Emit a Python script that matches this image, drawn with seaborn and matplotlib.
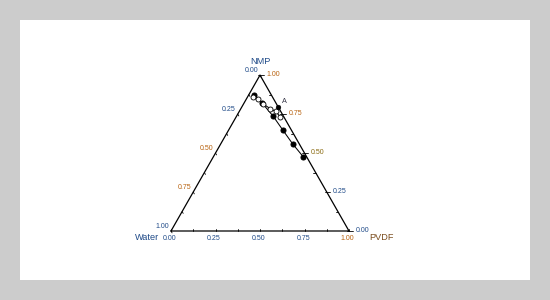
import numpy as np
import pandas as pd
import matplotlib
matplotlib.use("Agg")
import matplotlib.pyplot as plt
from matplotlib.patches import Rectangle
import seaborn as sns

sns.set_style("white")
plt.rcParams['font.family'] = ['Liberation Sans', 'DejaVu Sans']

# ---- data (mass fractions) ----
pvdf_filled = [0.03, 0.10, 0.205, 0.305, 0.405, 0.505]
nmp_filled = [0.875, 0.822, 0.737, 0.647, 0.558, 0.476]

pvdf_open = [0.03, 0.065, 0.11, 0.165, 0.205, 0.25]
nmp_open = [0.86, 0.848, 0.815, 0.785, 0.767, 0.73]

point_A_pvdf = [0.205]
point_A_nmp = [0.797]

tick_values = [0.00, 0.25, 0.50, 0.75, 1.00]
tick_labels = ["0.00", "0.25", "0.50", "0.75", "1.00"]
corner_labels = ["Water", "PVDF", "NMP"]

BLUE = "#1f4a88"
ORANGE = "#b8620f"
BROWN = "#7a4c1c"

left_colors = [BLUE, BLUE, ORANGE, ORANGE, BLUE]      # water axis (0 at top)
right_colors = [BLUE, BLUE, "#8a6a10", ORANGE, ORANGE]   # NMP axis (0 at bottom)
bottom_colors = [BLUE, BLUE, BLUE, BLUE, ORANGE]      # PVDF axis


def to_xy(pvdf, nmp):
    pvdf = np.asarray(pvdf, float)
    nmp = np.asarray(nmp, float)
    return pvdf + nmp / 2.0, nmp * np.sqrt(3) / 2.0


fig = plt.figure(figsize=(5.5, 3), dpi=100, facecolor="#cccccc")
fig.add_artist(Rectangle((20 / 550, 20 / 300), 510 / 550, 260 / 300,
                         transform=fig.transFigure, facecolor="white",
                         edgecolor="none", zorder=-5))
ax = fig.add_axes([0, 0, 1, 1])
ax.set_xlim(-171 / 178, 379 / 178)
ax.set_ylim(-69 / 180, 231 / 180)
ax.axis("off")

# triangle
tx, ty = to_xy([0, 1, 0, 0], [0, 0, 1, 0])
ax.plot(tx, ty, color="black", lw=0.9, zorder=2)

# minor ticks every 0.125 (inward)
L = 0.012
for v in np.arange(0, 1.0001, 0.125):
    x0, y0 = to_xy([v], [0])
    ax.plot([x0[0], x0[0]], [0, L], color="black", lw=0.6)
    x1, y1 = to_xy([1 - v], [v])
    ax.plot([x1[0], x1[0] - L], [y1[0], y1[0]], color="black", lw=0.6)
    x2, y2 = to_xy([0], [1 - v])
    ax.plot([x2[0], x2[0] + L * 0.5], [y2[0], y2[0] - L * 0.866], color="black", lw=0.6)

fs = 5.0
for v, lab, c in zip(tick_values, tick_labels, left_colors):
    x, y = to_xy([0], [1 - v])
    ax.annotate(lab, (x[0], y[0]), xytext=(-1.5, 0.5), textcoords="offset points",
                ha="right", va="bottom", fontsize=fs, color=c)
for v, lab, c in zip(tick_values, tick_labels, right_colors):
    x, y = to_xy([1 - v], [v])
    ax.plot([x[0], x[0] + 0.02], [y[0], y[0]], color="black", lw=0.6)
    ax.annotate(lab, (x[0], y[0]), xytext=(4.5, 0.5), textcoords="offset points",
                ha="left", va="center", fontsize=fs, color=c)
for v, lab, c in zip(tick_values, tick_labels, bottom_colors):
    x, y = to_xy([v], [0])
    ax.annotate(lab, (x[0], y[0]), xytext=(-1, -3), textcoords="offset points",
                ha="center", va="top", fontsize=fs, color=c)

ax.annotate(corner_labels[0], (0, 0), xytext=(-17, -4.5), textcoords="offset points",
            ha="center", va="center", fontsize=6.6, color=BLUE)
ax.annotate(corner_labels[1], (1, 0), xytext=(23.5, -5), textcoords="offset points",
            ha="center", va="center", fontsize=6.6, color=BROWN)
ax.annotate(corner_labels[2], (0.5, np.sqrt(3) / 2), xytext=(0.5, 10), textcoords="offset points",
            ha="center", va="center", fontsize=6.6, color=BLUE)

# data
fx, fy = to_xy(pvdf_filled, nmp_filled)
df_f = pd.DataFrame({"x": fx, "y": fy})
ox, oy = to_xy(pvdf_open, nmp_open)
df_o = pd.DataFrame({"x": ox, "y": oy})
ax_, ay_ = to_xy(point_A_pvdf, point_A_nmp)
df_a = pd.DataFrame({"x": ax_, "y": ay_})

sns.lineplot(data=df_f, x="x", y="y", sort=False, estimator=None, ax=ax,
             color="black", lw=0.75, marker="o", markersize=3.6,
             markerfacecolor="black", markeredgecolor="black", zorder=3)
sns.lineplot(data=df_o, x="x", y="y", sort=False, estimator=None, ax=ax,
             color="black", lw=0.75, marker="o", markersize=3.6,
             markerfacecolor="white", markeredgecolor="black",
             markeredgewidth=0.6, zorder=4)
sns.scatterplot(data=df_a, x="x", y="y", ax=ax, color="black", s=12,
                edgecolor="black", zorder=5)
ax.annotate("A", (ax_[0], ay_[0]), xytext=(4.3, 4), textcoords="offset points",
            ha="center", va="center", fontsize=5.2, color="#333344")

ax.set_xlabel("")
ax.set_ylabel("")
ax.axis("off")
ax.set_xlim(-171 / 178, 379 / 178)
ax.set_ylim(-69 / 180, 231 / 180)

fig.savefig("out.png", dpi=100, facecolor=fig.get_facecolor())
